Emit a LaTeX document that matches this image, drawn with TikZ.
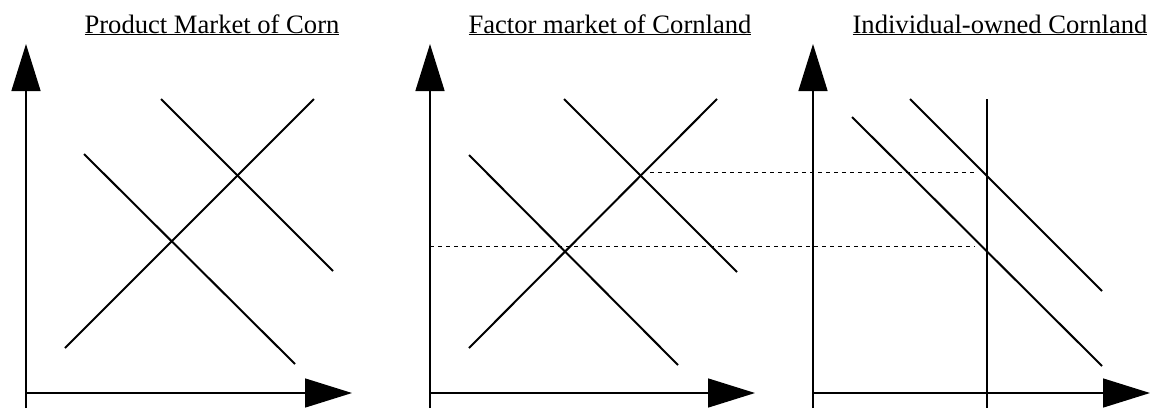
\documentclass[tikz,border=0pt]{standalone}
\usepackage{fontspec}
\setmainfont{Liberation Serif}
\usetikzlibrary{arrows.meta}

\begin{document}
\begin{tikzpicture}[
  x=1pt, y=-1pt,
  heading/.style={anchor=base, font=\fontsize{26.6}{30}\selectfont},
  axis/.style   ={line width=1.5pt, -{Triangle[length=47pt,width=29pt]}},
  curve/.style  ={line width=2pt},
  guide/.style  ={line width=1pt, dash pattern=on 4pt off 4pt}
  ]
  \useasboundingbox (0,0) rectangle (1150,408);

  % titles
  \node[heading] (corn)   at (212,33)  {\underline{Product Market of Corn}};
  \node[heading] (factor) at (610,33)  {\underline{Factor market of Cornland}};
  \node[heading] (owned)  at (1000,33) {\underline{Individual-owned Cornland}};

  % product market of corn
  \draw[axis] (26,408) -- (26,44);
  \draw[axis] (26,393) -- (352,393);
  \draw[curve] (65,348) -- (314,99);
  \draw[curve] (84,154) -- (295,364);
  \draw[curve] (161,99) -- (333,271);

  % factor market of cornland
  \draw[axis] (430,408) -- (430,44);
  \draw[axis] (430,393) -- (755,393);
  \draw[curve] (469,348) -- (717,99);
  \draw[curve] (469,155) -- (678,365);
  \draw[curve] (564,99) -- (737,272);

  % individual-owned cornland
  \draw[axis] (813,408) -- (813,44);
  \draw[axis] (813,393) -- (1150,393);
  \draw[curve] (987,99) -- (987,408);
  \draw[curve] (852,117) -- (1102,366);
  \draw[curve] (910,99) -- (1102,291);

  % rents carried across
  \draw[guide] (650,172) -- (975,172);
  \draw[guide] (430,246) -- (975,246);

\end{tikzpicture}
\end{document}
